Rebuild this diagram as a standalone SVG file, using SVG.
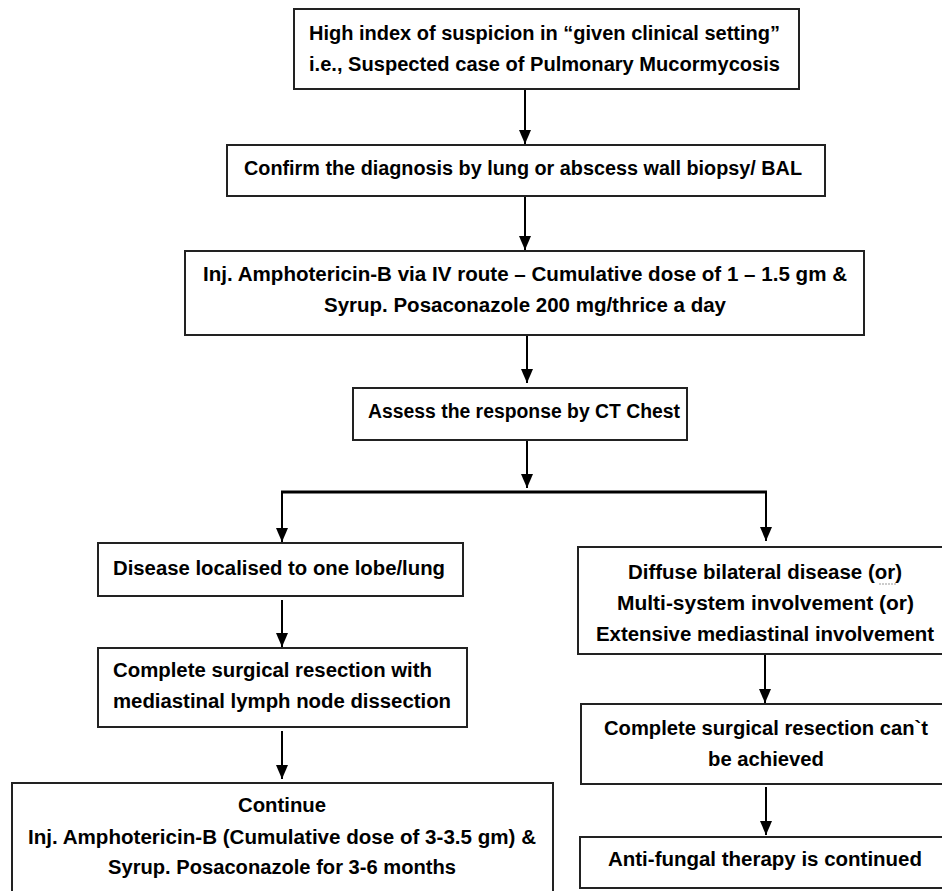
<svg xmlns="http://www.w3.org/2000/svg" width="942" height="891" viewBox="0 0 942 891">
<style>
.box{fill:#fff;stroke:#222;stroke-width:2}
.t{font-family:"Liberation Sans",Arial,sans-serif;font-weight:bold;font-size:20px;fill:#000}
.ln{stroke:#000;stroke-width:2;fill:none}
</style>
<defs>
<marker id="ah" markerUnits="userSpaceOnUse" markerWidth="14" markerHeight="12" viewBox="0 0 14 12" refX="14" refY="6" orient="auto">
<path d="M0,0 L14,6 L0,12 Z" fill="#000"/>
</marker>
</defs>
<rect width="942" height="891" fill="#fff"/>

<g id="n1">
<rect class="box" x="294" y="9" width="505" height="80"/>
<text class="t" x="309" y="40" textLength="471" lengthAdjust="spacingAndGlyphs">High index of suspicion in “given clinical setting”</text>
<text class="t" x="309" y="71" textLength="471" lengthAdjust="spacingAndGlyphs">i.e., Suspected case of Pulmonary Mucormycosis</text>
</g>

<g id="n2">
<rect class="box" x="227" y="145" width="598" height="51"/>
<text class="t" x="244" y="175" textLength="558" lengthAdjust="spacingAndGlyphs">Confirm the diagnosis by lung or abscess wall biopsy/ BAL</text>
</g>

<g id="n3">
<rect class="box" x="185" y="251" width="679" height="84"/>
<text class="t" x="203" y="281" textLength="644" lengthAdjust="spacingAndGlyphs">Inj. Amphotericin-B via IV route – Cumulative dose of 1 – 1.5 gm &amp;</text>
<text class="t" x="324" y="312" textLength="402" lengthAdjust="spacingAndGlyphs">Syrup. Posaconazole 200 mg/thrice a day</text>
</g>

<g id="n4">
<rect class="box" x="353" y="388" width="334" height="52"/>
<text class="t" x="368" y="418" textLength="312" lengthAdjust="spacingAndGlyphs">Assess the response by CT Chest</text>
</g>

<g id="n5">
<rect class="box" x="98" y="543" width="365" height="53"/>
<text class="t" x="113" y="575" textLength="332" lengthAdjust="spacingAndGlyphs">Disease localised to one lobe/lung</text>
</g>

<g id="n6">
<rect class="box" x="98" y="648" width="369" height="79"/>
<text class="t" x="113" y="677" textLength="319" lengthAdjust="spacingAndGlyphs">Complete surgical resection with</text>
<text class="t" x="113" y="708" textLength="338" lengthAdjust="spacingAndGlyphs">mediastinal lymph node dissection</text>
</g>

<g id="n7">
<rect class="box" x="12" y="783" width="541" height="115"/>
<text class="t" x="238" y="812" textLength="88" lengthAdjust="spacingAndGlyphs">Continue</text>
<text class="t" x="28" y="844" textLength="508" lengthAdjust="spacingAndGlyphs">Inj. Amphotericin-B (Cumulative dose of 3-3.5 gm) &amp;</text>
<text class="t" x="108" y="874" textLength="348" lengthAdjust="spacingAndGlyphs">Syrup. Posaconazole for 3-6 months</text>
</g>

<g id="n8">
<rect class="box" x="578" y="547" width="377" height="107"/>
<text class="t" x="628" y="579" textLength="274" lengthAdjust="spacingAndGlyphs">Diffuse bilateral disease (or)</text>
<line x1="879" y1="584" x2="897" y2="584" stroke="#999" stroke-width="1.2" stroke-dasharray="2,1"/>
<text class="t" x="617" y="610" textLength="297" lengthAdjust="spacingAndGlyphs">Multi-system involvement (or)</text>
<text class="t" x="596" y="641" textLength="338" lengthAdjust="spacingAndGlyphs">Extensive mediastinal involvement</text>
</g>

<g id="n9">
<rect class="box" x="581" y="704" width="374" height="80"/>
<text class="t" x="604" y="735" textLength="324" lengthAdjust="spacingAndGlyphs">Complete surgical resection can`t</text>
<text class="t" x="708" y="766" textLength="116" lengthAdjust="spacingAndGlyphs">be achieved</text>
</g>

<g id="n10">
<rect class="box" x="580" y="837" width="375" height="51"/>
<text class="t" x="608" y="866" textLength="314" lengthAdjust="spacingAndGlyphs">Anti-fungal therapy is continued</text>
</g>

<g id="connectors">
<line class="ln" x1="525" y1="90" x2="525" y2="144" marker-end="url(#ah)"/>
<line class="ln" x1="525" y1="197" x2="525" y2="250" marker-end="url(#ah)"/>
<line class="ln" x1="527" y1="336" x2="527" y2="383" marker-end="url(#ah)"/>
<line class="ln" x1="527" y1="441" x2="527" y2="488" marker-end="url(#ah)"/>
<line x1="281" y1="492" x2="767" y2="492" stroke="#000" stroke-width="3"/>
<line class="ln" x1="282" y1="492" x2="282" y2="542" marker-end="url(#ah)"/>
<line class="ln" x1="766" y1="492" x2="766" y2="541" marker-end="url(#ah)"/>
<line class="ln" x1="282" y1="600" x2="282" y2="647" marker-end="url(#ah)"/>
<line class="ln" x1="282" y1="731" x2="282" y2="779" marker-end="url(#ah)"/>
<line class="ln" x1="765" y1="655" x2="765" y2="703" marker-end="url(#ah)"/>
<line class="ln" x1="766" y1="787" x2="766" y2="835" marker-end="url(#ah)"/>
</g>
</svg>
